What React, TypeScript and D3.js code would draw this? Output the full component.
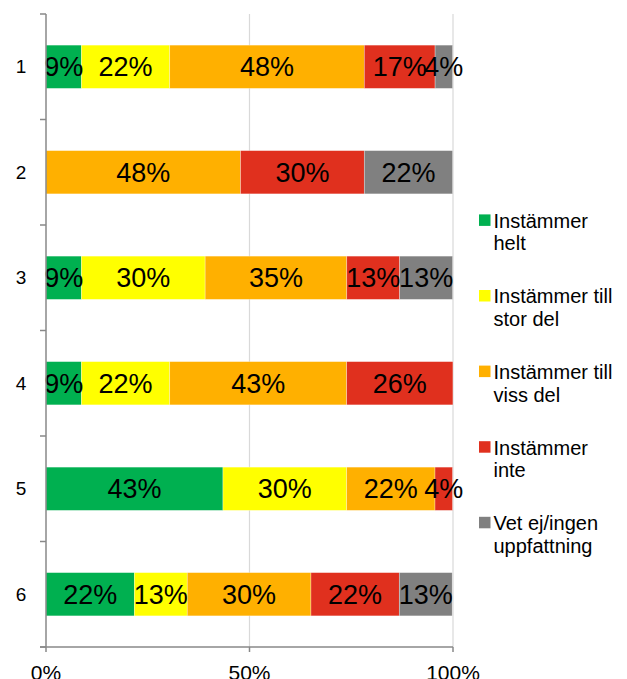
import React from "react";
import * as d3 from "d3";

const categories = ["1", "2", "3", "4", "5", "6"];
const seriesNames = [
  "Instämmer helt",
  "Instämmer till stor del",
  "Instämmer till viss del",
  "Instämmer inte",
  "Vet ej/ingen uppfattning",
];
const legendLines = [
  ["Instämmer", "helt"],
  ["Instämmer till", "stor del"],
  ["Instämmer till", "viss del"],
  ["Instämmer", "inte"],
  ["Vet ej/ingen", "uppfattning"],
];
const colors = ["#00B050", "#FFFF00", "#FFB000", "#E0301E", "#808080"];
// percentages per category, in series order
const helt = [8.7, 0, 8.7, 8.7, 43.48, 21.7];
const storDel = [21.7, 0, 30.4, 21.7, 30.4, 13.0];
const vissDel = [47.8, 47.8, 34.8, 43.48, 21.7, 30.4];
const inte = [17.4, 30.4, 13.0, 26.1, 4.3, 21.7];
const vetEj = [4.3, 21.7, 13.0, 0, 0, 13.0];
const xTicks = [0, 50, 100];

const W = 627;
const H = 679;
const left = 46;
const right = 453;
const top = 14;
const bottom = 647;

export default function App() {
  const series = [helt, storDel, vissDel, inte, vetEj];
  const x = d3.scaleLinear().domain([0, 100]).range([left, right]);
  const y = d3.scaleBand().domain(categories).range([top, bottom]).paddingInner(0.59).paddingOuter(0.295);
  const rows = categories.map((c, i) => {
    const obj: any = { cat: c };
    series.forEach((s, k) => (obj[k] = s[i]));
    return obj;
  });
  const stack = d3.stack<any>().keys(series.map((_, k) => String(k)))(rows);
  const fmt = (v: number) => `${Math.round(v)}%`;
  const font = "'Liberation Sans', Arial, sans-serif";
  const bandStep = (bottom - top) / categories.length;

  return (
    <svg width={W} height={H} style={{ position: "absolute", left: 0, top: 0 }} fontFamily={font}>
      <rect width={W} height={H} fill="#fff" />
      {xTicks.slice(1).map((t) => (
        <line key={t} x1={x(t)} x2={x(t)} y1={top} y2={bottom} stroke="#d9d9d9" strokeWidth={1.2} />
      ))}
      {stack.map((layer, k) => (
        <g key={k}>
          {layer.map((d, i) =>
            d[1] - d[0] > 0 ? (
              <rect
                key={i}
                x={x(d[0])}
                y={y(categories[i])!}
                width={x(d[1]) - x(d[0])}
                height={y.bandwidth()}
                fill={colors[k]}
                stroke="#ffffff"
                strokeOpacity={0.5}
                strokeWidth={0.6}
              />
            ) : null
          )}
        </g>
      ))}
      {stack.map((layer, k) => (
        <g key={"t" + k}>
          {layer.map((d, i) =>
            d[1] - d[0] > 0 ? (
              <text
                key={i}
                x={(x(d[0]) + x(d[1])) / 2}
                y={y(categories[i])! + y.bandwidth() / 2}
                dy="0.35em"
                textAnchor="middle"
                fontSize={27}
                fill="#000"
              >
                {fmt(d[1] - d[0])}
              </text>
            ) : null
          )}
        </g>
      ))}
      {/* left axis */}
      <line x1={left} x2={left} y1={top} y2={bottom} stroke="#888" strokeWidth={1.5} />
      {d3.range(categories.length + 1).map((i) => (
        <line key={i} x1={left - 6} x2={left} y1={top + i * bandStep} y2={top + i * bandStep} stroke="#888" strokeWidth={1.5} />
      ))}
      {categories.map((c) => (
        <text key={c} x={21} y={y(c)! + y.bandwidth() / 2} dy="0.35em" textAnchor="middle" fontSize={19} fill="#000">
          {c}
        </text>
      ))}
      {/* bottom axis */}
      <line x1={left - 6} x2={right} y1={bottom} y2={bottom} stroke="#888" strokeWidth={1.5} />
      {xTicks.map((t) => (
        <g key={t}>
          <line x1={x(t)} x2={x(t)} y1={bottom} y2={bottom + 5} stroke="#888" strokeWidth={1.5} />
          <text x={x(t)} y={680} textAnchor="middle" fontSize={21} fill="#000">
            {`${t}%`}
          </text>
        </g>
      ))}
      {/* legend */}
      {seriesNames.map((n, k) => {
        const base = 227.7 + k * 75.6;
        return (
          <g key={n}>
            <rect x={479} y={base - 13.3} width={11.5} height={11.5} fill={colors[k]} />
            {legendLines[k].map((line, j) => (
              <text key={j} x={493.5} y={base + j * 22.6} fontSize={20} fill="#000">
                {line}
              </text>
            ))}
          </g>
        );
      })}
    </svg>
  );
}
